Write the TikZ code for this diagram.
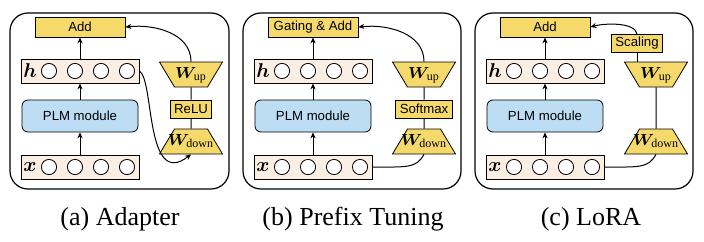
\documentclass[tikz,border=0pt]{standalone}
\usepackage{amsmath,bm}
\usepackage{fontspec}
\setmainfont{Liberation Serif}
\setsansfont{Liberation Sans}
\usetikzlibrary{shapes.geometric,arrows.meta}
\definecolor{modyellow}{HTML}{F6D96B}
\definecolor{vecbeige}{HTML}{FAEFE2}
\definecolor{plmblue}{HTML}{BDDDF4}
\newcommand{\wlab}[1]{\makebox[16.5pt]{\rule[-4.5pt]{0pt}{12.5pt}\fontsize{8}{9}\selectfont$\bm{W}_{\mathrm{#1}}$}}

\begin{document}
\begin{tikzpicture}[x=0.5pt,y=-0.5pt,
  panel/.style={draw,line width=0.6pt,rounded corners=9pt},
  labelfont/.style={font=\sffamily\fontsize{6.6}{8}\selectfont},
  addbox/.style={draw,fill=modyellow,labelfont,minimum width=45pt,minimum height=10pt,inner sep=0pt},
  smallbox/.style={draw,fill=modyellow,labelfont,minimum height=9pt,inner xsep=2pt,inner ysep=0pt},
  vecrow/.style={draw,fill=vecbeige,minimum width=59pt,minimum height=12pt,inner sep=0pt},
  unit/.style={circle,draw,fill=white,minimum size=7.6pt,inner sep=0pt},
  plm/.style={draw,fill=plmblue,rounded corners=3pt,labelfont,minimum width=58pt,minimum height=16pt},
  wdown/.style={trapezium,draw,fill=modyellow,trapezium angle=59,inner sep=0pt},
  wup/.style={wdown,shape border rotate=180},
  conn/.style={line width=0.5pt},
  flow/.style={conn,-{Stealth[length=3pt,width=2.6pt]}},
  caption/.style={font=\fontsize{13}{15}\selectfont}]
\useasboundingbox (0,0) rectangle (704,241);

% (a) adapter
\begin{scope}[xshift=5pt]
\draw[panel] (0,13) rectangle (219,189);
\node[addbox] (a-add) at (70,27) {Add};
\node[vecrow] (a-h) at (70,71) {};
\node (a-hlab) at (20,71) {$\bm{h}$};
\foreach \i/\xx in {1/39,2/65,3/91,4/117} \node[unit] (a-h\i) at (\xx,71) {};
\node[plm] (a-plm) at (70,116) {PLM module};
\node[vecrow] (a-x) at (70,167) {};
\node (a-xlab) at (20,167) {$\bm{x}$};
\foreach \i/\xx in {1/39,2/65,3/91,4/117} \node[unit] (a-x\i) at (\xx,167) {};
\node[wup] (a-up) at (181,74.5) {\wlab{up}};
\node[smallbox] (a-mid) at (181,109) {ReLU};
\node[wdown] (a-down) at (181,141.5) {\wlab{down}};
\draw[flow] (a-x) -- (a-plm);
\draw[flow] (a-plm) -- (a-h);
\draw[flow] (a-h) -- (a-add);
\draw[conn] (a-down) -- (a-mid);
\draw[conn] (a-mid) -- (a-up);
\draw[flow] (a-h.east) .. controls +(15,9) and +(-46,35) .. (a-down.south);
\draw[flow] (a-up.north) .. controls +(0,-28) and +(30,-3) .. (a-add.east);
\end{scope}

% (b) prefix tuning
\begin{scope}[xshift=121.5pt]
\draw[panel] (0,13) rectangle (218,189);
\node[addbox] (b-add) at (70,27) {Gating \& Add};
\node[vecrow] (b-h) at (70,71) {};
\node (b-hlab) at (20,71) {$\bm{h}$};
\foreach \i/\xx in {1/39,2/65,3/91,4/117} \node[unit] (b-h\i) at (\xx,71) {};
\node[plm] (b-plm) at (70,116) {PLM module};
\node[vecrow] (b-x) at (70,167) {};
\node (b-xlab) at (20,167) {$\bm{x}$};
\foreach \i/\xx in {1/39,2/65,3/91,4/117} \node[unit] (b-x\i) at (\xx,167) {};
\node[wup] (b-up) at (181,74.5) {\wlab{up}};
\node[smallbox] (b-mid) at (181,109) {Softmax};
\node[wdown] (b-down) at (181,141.5) {\wlab{down}};
\draw[flow] (b-x) -- (b-plm);
\draw[flow] (b-plm) -- (b-h);
\draw[flow] (b-h) -- (b-add);
\draw[conn] (b-down) -- (b-mid);
\draw[conn] (b-mid) -- (b-up);
\draw[conn] (b-x.east) .. controls +(35,0) and +(-8,14) .. (b-down.south);
\draw[flow] (b-up.north) .. controls +(0,-28) and +(30,-3) .. (b-add.east);
\end{scope}

% (c) lora
\begin{scope}[xshift=237.5pt]
\draw[panel] (0,13) rectangle (218,189);
\node[addbox] (c-add) at (70,27) {Add};
\node[smallbox] (c-scale) at (162,43.5) {Scaling};
\node[vecrow] (c-h) at (70,71) {};
\node (c-hlab) at (20,71) {$\bm{h}$};
\foreach \i/\xx in {1/39,2/65,3/91,4/117} \node[unit] (c-h\i) at (\xx,71) {};
\node[plm] (c-plm) at (70,116) {PLM module};
\node[vecrow] (c-x) at (70,167) {};
\node (c-xlab) at (20,167) {$\bm{x}$};
\foreach \i/\xx in {1/39,2/65,3/91,4/117} \node[unit] (c-x\i) at (\xx,167) {};
\node[wup] (c-up) at (181,74.5) {\wlab{up}};
\node[wdown] (c-down) at (181,141.5) {\wlab{down}};
\draw[flow] (c-x) -- (c-plm);
\draw[flow] (c-plm) -- (c-h);
\draw[flow] (c-h) -- (c-add);
\draw[conn] (c-down) -- (c-up);
\draw[conn] (c-scale.south) -- (c-scale.south |- c-up.north);
\draw[conn] (c-x.east) .. controls +(35,0) and +(-8,14) .. (c-down.south);
\draw[flow] (c-scale.north) .. controls +(-2,-12) and +(15,-4) .. (c-add.east);
\end{scope}

\node[caption] (cap-a) at (120,219) {(a) Adapter};
\node[caption] (cap-b) at (353,219) {(b) Prefix Tuning};
\node[caption] (cap-c) at (591,219) {(c) LoRA};
\end{tikzpicture}
\end{document}
